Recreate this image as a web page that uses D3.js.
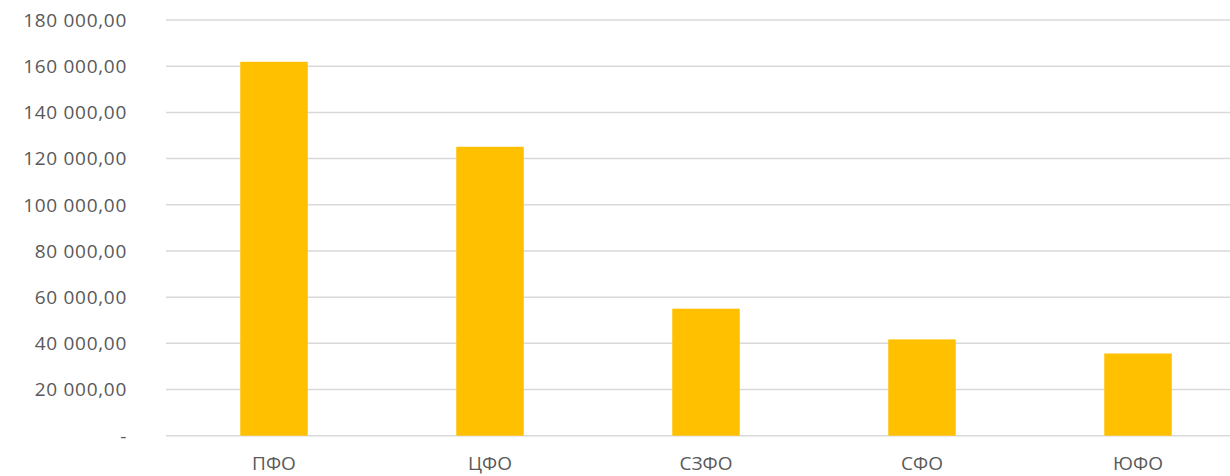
<!DOCTYPE html>
<html>
<head>
<meta charset="utf-8">
<script src="https://cdn.jsdelivr.net/npm/d3@7"></script>
<style>
  body { margin: 0; background: #fff; }
  text { font-family: "Open Sans", "Noto Sans", sans-serif; fill: #595959; }
</style>
</head>
<body>
<div id="chart"></div>
<script>
var categories = ["ПФО", "ЦФО", "СЗФО", "СФО", "ЮФО"];
var values = [161900, 125100, 55000, 41700, 35600];
var yTicks = [0, 20000, 40000, 60000, 80000, 100000, 120000, 140000, 160000, 180000];

var WIDTH = 1230, HEIGHT = 476;

var ru = d3.formatLocale({decimal: ",", thousands: "\u00a0", grouping: [3], currency: ["", ""]});
var fmt = ru.format(",.2f");

var svg = d3.select("#chart").append("svg")
    .attr("width", WIDTH)
    .attr("height", HEIGHT);

var x = d3.scaleBand()
    .domain(categories)
    .range([166, 1246])
    .paddingInner(0.6875)
    .paddingOuter(0.34375);

var y = d3.scaleLinear()
    .domain([0, 180000])
    .range([435.7, 20]);

// gridlines
svg.append("g")
    .selectAll("line")
    .data(yTicks)
    .enter().append("line")
    .attr("x1", 166)
    .attr("x2", 1246)
    .attr("y1", function(d){ return y(d); })
    .attr("y2", function(d){ return y(d); })
    .attr("stroke", "#d9d9d9")
    .attr("stroke-width", 1.5);

// y labels
svg.append("g")
    .selectAll("text")
    .data(yTicks)
    .enter().append("text")
    .attr("x", 127)
    .attr("y", function(d){ return y(d); })
    .attr("dy", "0.36em")
    .attr("text-anchor", "end")
    .style("font-size", "19px")
    .style("letter-spacing", "0.7px")
    .text(function(d){ return d === 0 ? "-" : fmt(d); });

// bars
svg.append("g")
    .selectAll("rect")
    .data(values)
    .enter().append("rect")
    .attr("x", function(d, i){ return x(categories[i]); })
    .attr("width", x.bandwidth())
    .attr("y", function(d){ return y(d); })
    .attr("height", function(d){ return y(0) - y(d); })
    .attr("fill", "#ffc000");

// x labels
svg.append("g")
    .selectAll("text")
    .data(categories)
    .enter().append("text")
    .attr("x", function(d){ return x(d) + x.bandwidth() / 2; })
    .attr("y", 470)
    .attr("text-anchor", "middle")
    .style("font-size", "19px")
    .text(function(d){ return d; });
</script>
</body>
</html>
